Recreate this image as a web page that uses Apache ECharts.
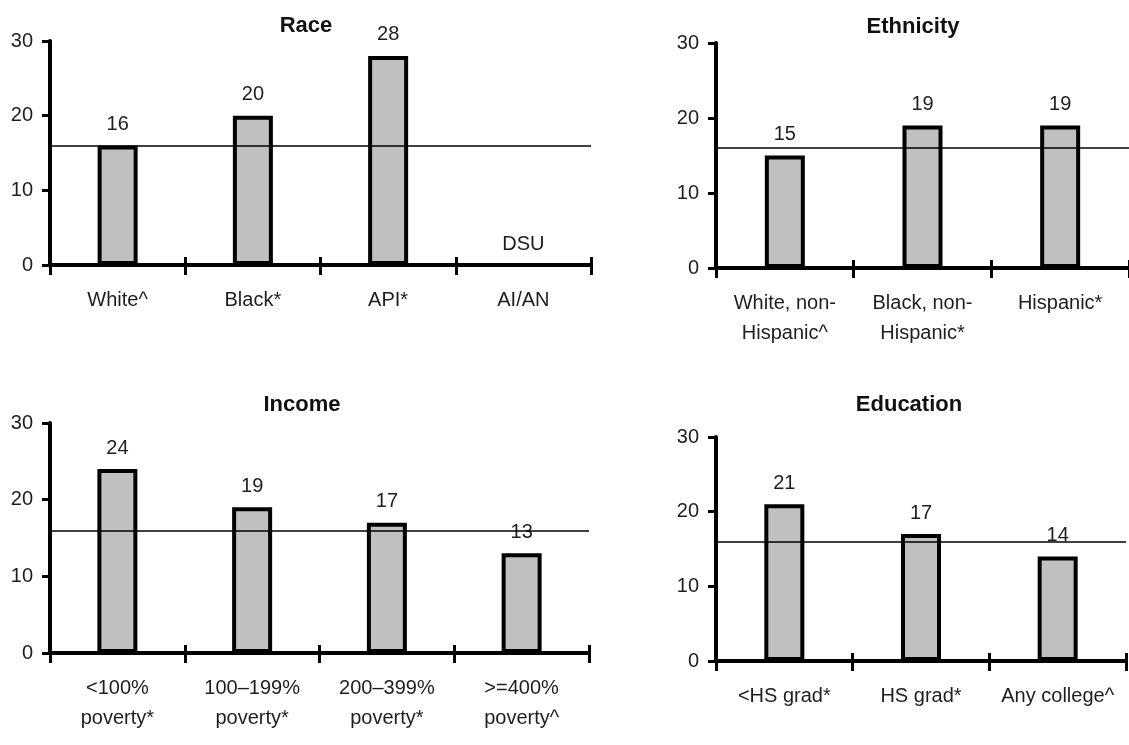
<!DOCTYPE html>
<html>
<head>
<meta charset="utf-8">
<script src="https://cdn.jsdelivr.net/npm/echarts@6/dist/echarts.min.js"></script>
<style>
html,body{margin:0;padding:0;background:#fff;}
#c{width:1129px;height:745px;}
</style>
</head>
<body>
<div id="c"></div>
<script>
// ---- data ----
const raceCategories = ['White^', 'Black*', 'API*', 'AI/AN'];
const raceValues = [16, 20, 28, null];          // null = DSU (data statistically unreliable)
const ethnicityCategories = ['White, non-\nHispanic^', 'Black, non-\nHispanic*', 'Hispanic*'];
const ethnicityValues = [15, 19, 19];
const incomeCategories = ['<100%\npoverty*', '100–199%\npoverty*', '200–399%\npoverty*', '>=400%\npoverty^'];
const incomeValues = [24, 19, 17, 13];
const educationCategories = ['<HS grad*', 'HS grad*', 'Any college^'];
const educationValues = [21, 17, 14];
const panelTitles = ['Race', 'Ethnicity', 'Income', 'Education'];
const overallRate = 16;
const yMin = 0, yMax = 30, yStep = 10;
const missingText = 'DSU';

// ---- layout / style ----
const FONT = '"Liberation Sans", Arial, Helvetica, sans-serif';
const TXT = '#1e1e1e';
const grids = [
  { left: 50,  top: 41,  width: 541, height: 224 },
  { left: 716, top: 43,  width: 418, height: 225 },
  { left: 50,  top: 423, width: 539, height: 230 },
  { left: 716, top: 437, width: 410, height: 224 }
];
const titlePos = [[301, 10], [908, 11], [297, 389], [904, 389]];
const panels = [
  [raceCategories, raceValues],
  [ethnicityCategories, ethnicityValues],
  [incomeCategories, incomeValues],
  [educationCategories, educationValues]
];

const option = {
  animation: false,
  backgroundColor: '#fff',
  textStyle: { fontFamily: FONT },
  title: panelTitles.map((t, i) => ({
    text: t, left: titlePos[i][0], top: titlePos[i][1], textAlign: 'center',
    textStyle: { fontFamily: FONT, fontSize: 22, fontWeight: 'bold', color: '#111' }
  })),
  grid: grids.map(g => Object.assign({ containLabel: false }, g)),
  xAxis: [],
  yAxis: [],
  series: []
};

panels.forEach(([cats, vals], i) => {
  // main x axis: thick line, outward ticks, labels
  option.xAxis.push({
    type: 'category', gridIndex: i, data: cats, position: 'bottom',
    axisLine: { show: true, onZero: false, lineStyle: { color: '#000', width: 4 } },
    axisTick: { show: true, length: 10, lineStyle: { color: '#000', width: 3 } },
    axisLabel: { color: TXT, fontSize: 20, fontFamily: FONT, margin: 20, lineHeight: 30, interval: 0 },
    splitLine: { show: false }
  });
  // second x axis: only inward part of the crossing ticks
  option.xAxis.push({
    type: 'category', gridIndex: i, data: cats, position: 'bottom',
    axisLine: { show: false },
    axisTick: { show: true, inside: true, length: 8, lineStyle: { color: '#000', width: 3 } },
    axisLabel: { show: false },
    splitLine: { show: false }
  });
  option.yAxis.push({
    type: 'value', gridIndex: i, min: yMin, max: yMax, interval: yStep,
    axisLine: { show: true, lineStyle: { color: '#000', width: 4 } },
    axisTick: { show: true, length: 8, lineStyle: { color: '#000', width: 3 } },
    axisLabel: { color: TXT, fontSize: 20, fontFamily: FONT, margin: 17 },
    splitLine: { show: false }
  });
  const data = vals.map(v => v === null
    ? { value: 0, itemStyle: { borderWidth: 0, color: 'rgba(0,0,0,0)' },
        label: { show: true, formatter: missingText, color: TXT } }
    : v);
  option.series.push({
    type: 'bar', xAxisIndex: i * 2, yAxisIndex: i, data: data,
    barWidth: 40,
    itemStyle: { color: '#c0c0c0', borderColor: '#000', borderWidth: 4 },
    label: { show: true, position: 'top', distance: 11, color: TXT, fontSize: 20, fontFamily: FONT },
    markLine: {
      silent: true, symbol: 'none', label: { show: false },
      lineStyle: { color: '#000', width: 1.5, type: 'solid' },
      data: [{ yAxis: overallRate }]
    },
    z: 2
  });
});

const chart = echarts.init(document.getElementById('c'), null, { renderer: 'canvas' });
chart.setOption(option);
</script>
</body>
</html>
